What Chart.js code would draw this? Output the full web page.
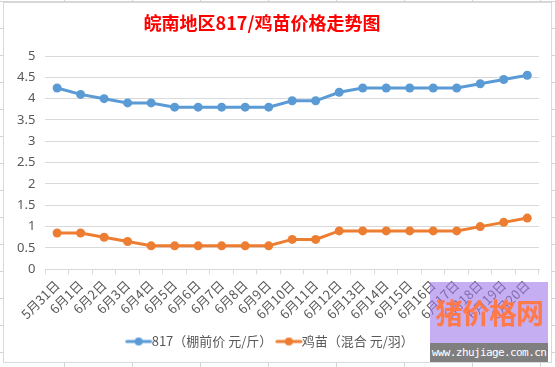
<!DOCTYPE html>
<html>
<head>
<meta charset="utf-8">
<script src="https://cdn.jsdelivr.net/npm/chart.js@4/dist/chart.umd.min.js"></script>
<style>
  html, body { margin: 0; padding: 0; }
  body {
    width: 555px; height: 367px; position: relative; overflow: hidden;
    background-color: #fff;
    background-image:
      linear-gradient(to right, #d4d4d4 1px, transparent 1px),
      linear-gradient(to bottom, #d4d4d4 1px, transparent 1px);
    background-size: 68px 27px;
    background-position: -4px 1px;
    font-family: "Noto Sans CJK SC", "Noto Sans", sans-serif;
  }
  #box {
    position: absolute; left: 3px; top: 2px; width: 549px; height: 361px;
    box-sizing: border-box; border: 1px solid #d9d9d9; background: #fff;
  }
  #box canvas { display: block; }
  #title {
    position: absolute; left: 62px; width: 400px; top: 9px; text-align: center;
    color: #ff0000; font: bold 18px "Noto Sans CJK SC", sans-serif; line-height: 26px;
  }
  #wm {
    position: absolute; left: 430px; top: 282px; width: 118px; height: 61px;
    background: rgba(160,120,235,0.6);
    color: #ff7a4a; font: bold 28px "Noto Sans CJK SC", sans-serif;
    text-align: center; line-height: 61px; letter-spacing: -1px; overflow: hidden;
  }
  #wm2 {
    position: absolute; left: 430px; top: 343px; width: 118px; height: 19px;
    background: #7f7f7f; color: #fff; font: 11px "DejaVu Sans Mono", monospace;
    text-align: center; line-height: 19px; letter-spacing: -0.6px;
  }
</style>
</head>
<body>
<div id="box"><canvas id="c" width="547" height="359"></canvas></div>
<div id="title">皖南地区817/鸡苗价格走势图</div>
<div id="wm">猪价格网</div>
<div id="wm2">www.zhujiage.com.cn</div>
<script>
const categories = ["5月31日","6月1日","6月2日","6月3日","6月4日","6月5日","6月6日","6月7日","6月8日","6月9日","6月10日","6月11日","6月12日","6月13日","6月14日","6月15日","6月16日","6月17日","6月18日","6月19日","6月20日"];
const price817 = [4.25,4.1,4.0,3.9,3.9,3.8,3.8,3.8,3.8,3.8,3.95,3.95,4.15,4.25,4.25,4.25,4.25,4.25,4.35,4.45,4.55];
const chickPrice = [0.85,0.85,0.75,0.65,0.55,0.55,0.55,0.55,0.55,0.55,0.7,0.7,0.9,0.9,0.9,0.9,0.9,0.9,1.0,1.1,1.2];
const seriesNames = ["817（棚前价 元/斤）","鸡苗（混合 元/羽）"];
const yTicks = { min: 0, max: 5, step: 0.5 };

function legendIcon(color) {
  const cv = document.createElement('canvas');
  cv.width = 28; cv.height = 10;
  const g = cv.getContext('2d');
  g.strokeStyle = color; g.lineWidth = 3; g.lineCap = 'round';
  g.beginPath(); g.moveTo(2,5); g.lineTo(26,5); g.stroke();
  g.fillStyle = color; g.beginPath(); g.arc(14,5,4,0,Math.PI*2); g.fill();
  return cv;
}
const blue = '#5b9bd5', orange = '#ed7d31';

new Chart(document.getElementById('c'), {
  type: 'line',
  data: {
    labels: categories,
    datasets: [
      { label: seriesNames[0], data: price817, borderColor: blue, backgroundColor: blue,
        borderWidth: 3, pointRadius: 4.5, pointBackgroundColor: blue, pointBorderWidth: 0,
        pointStyle: 'circle', tension: 0 },
      { label: seriesNames[1], data: chickPrice, borderColor: orange, backgroundColor: orange,
        borderWidth: 3, pointRadius: 4.5, pointBackgroundColor: orange, pointBorderWidth: 0,
        pointStyle: 'circle', tension: 0 }
    ]
  },
  options: {
    responsive: false, animation: false,
    layout: { padding: { left: 3, right: 12, top: 53, bottom: 4 } },
    plugins: {
      title: { display: false },
      legend: { position: 'bottom',
        labels: { usePointStyle: true, color: '#595959', padding: 10,
          font: { size: 13, family: '"Noto Sans CJK SC", sans-serif' },
          generateLabels(chart) {
            return chart.data.datasets.map((d, i) => ({
              text: d.label, fillStyle: d.borderColor, strokeStyle: d.borderColor,
              fontColor: '#595959', lineWidth: 0, datasetIndex: i, hidden: false,
              pointStyle: legendIcon(d.borderColor)
            }));
          } } },
      tooltip: { enabled: false }
    },
    scales: {
      x: { offset: true,
        grid: { offset: true, drawOnChartArea: false, tickLength: 5, color: '#d9d9d9' },
        border: { color: '#d9d9d9' },
        ticks: { maxRotation: 45, minRotation: 45, autoSkip: false, color: '#595959',
          font: { size: 13, family: '"Noto Sans CJK SC", sans-serif' }, padding: 3 } },
      y: { min: yTicks.min, max: yTicks.max,
        grid: { color: '#d9d9d9', drawTicks: false },
        border: { display: false },
        ticks: { stepSize: yTicks.step, color: '#595959', padding: 10,
          callback: (v) => String(v),
          font: { size: 13, family: '"Noto Sans", sans-serif' } } }
    }
  }
});
</script>
</body>
</html>
